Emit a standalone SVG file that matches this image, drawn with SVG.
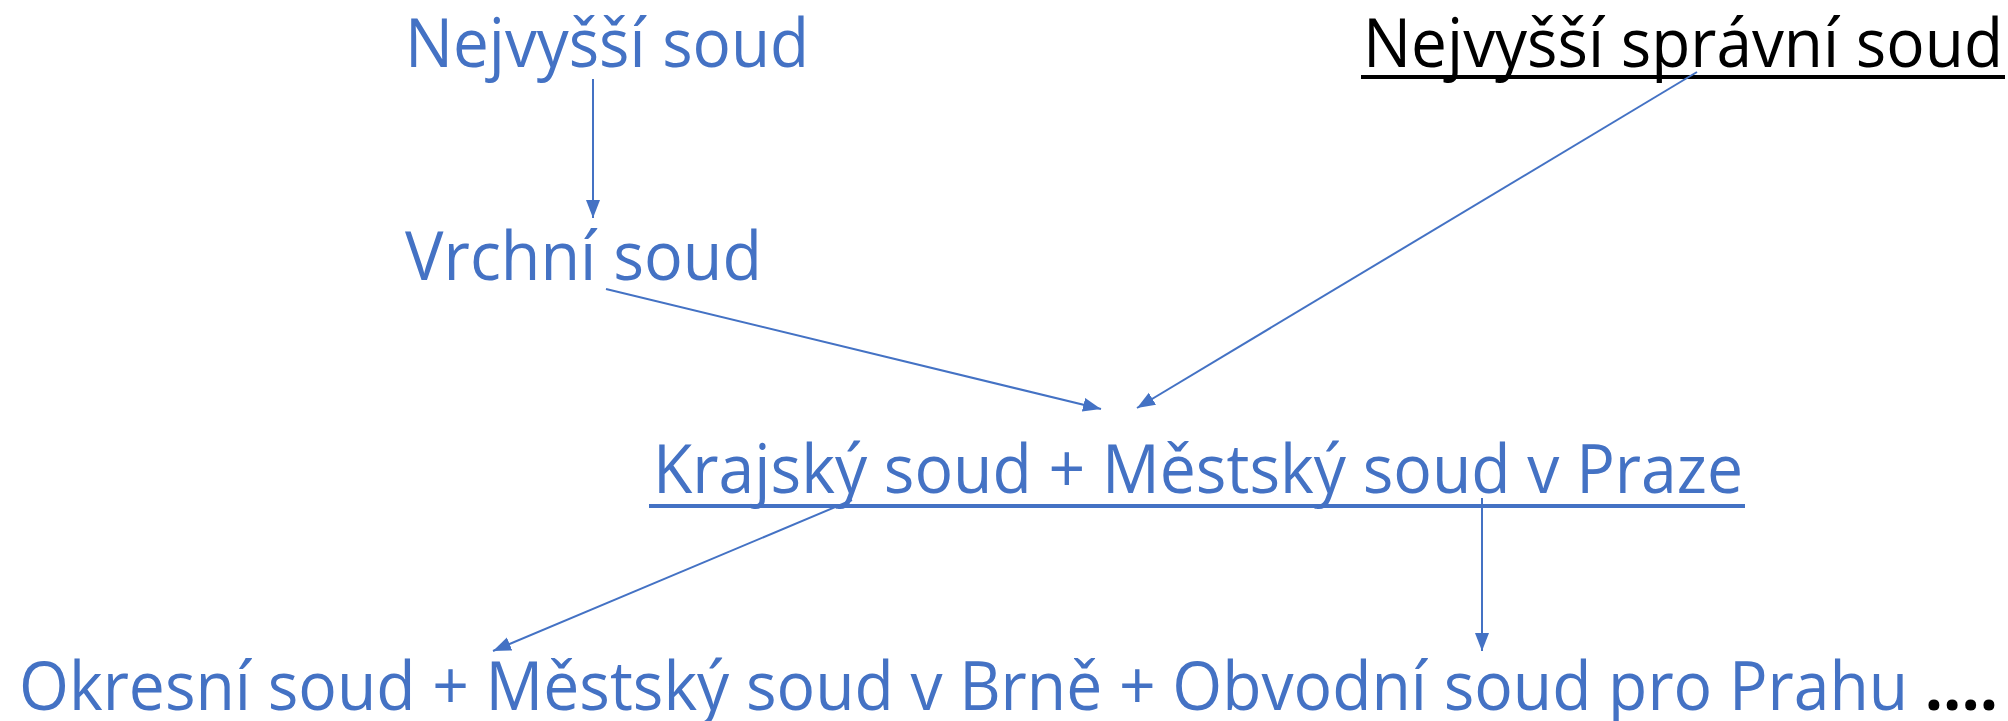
<svg xmlns="http://www.w3.org/2000/svg" width="2008" height="721" viewBox="0 0 2008 721">
<style>
text{font-family:"Open Sans","Noto Sans","Liberation Sans",sans-serif;font-size:67px}
.b{fill:#4472C4}
.k{fill:#000}
.c{stroke:#4472C4;stroke-width:2;fill:none}
</style>
<defs>
<marker id="ah" markerUnits="userSpaceOnUse" markerWidth="20" markerHeight="16" refX="18" refY="7" orient="auto">
<path d="M0,0 L18,7 L0,14 z" fill="#4472C4"/>
</marker>
</defs>
<rect width="2008" height="721" fill="#fff"/>
<g id="nejvyssi-soud"><text class="b" x="405" y="67" textLength="404" lengthAdjust="spacingAndGlyphs">Nejvyšší soud</text></g>
<g id="nejvyssi-spravni-soud"><text class="k" x="1363" y="67" textLength="640" lengthAdjust="spacingAndGlyphs">Nejvyšší správní soud</text><rect x="1361" y="75" width="644" height="4" fill="#000"/></g>
<g id="vrchni-soud"><text class="b" x="405" y="280" textLength="357" lengthAdjust="spacingAndGlyphs">Vrchní soud</text></g>
<g id="krajsky-soud"><text class="b" x="653" y="493" textLength="1090" lengthAdjust="spacingAndGlyphs">Krajský soud + Městský soud v Praze</text><rect x="649" y="504" width="1096" height="4" fill="#4472C4"/></g>
<g id="okresni-soud"><text class="b" x="19" y="710" textLength="1979" lengthAdjust="spacingAndGlyphs">Okresní soud + Městský soud v Brně + Obvodní soud pro Prahu <tspan class="k" font-weight="bold">....</tspan></text></g>
<g id="connectors">
<line class="c" x1="593" y1="79" x2="593" y2="218" marker-end="url(#ah)"/>
<line class="c" x1="606" y1="289" x2="1101" y2="409" marker-end="url(#ah)"/>
<line class="c" x1="1697" y1="72" x2="1137" y2="408" marker-end="url(#ah)"/>
<line class="c" x1="852" y1="500" x2="493" y2="651" marker-end="url(#ah)"/>
<line class="c" x1="1482" y1="498" x2="1482" y2="651" marker-end="url(#ah)"/>
</g>
</svg>
